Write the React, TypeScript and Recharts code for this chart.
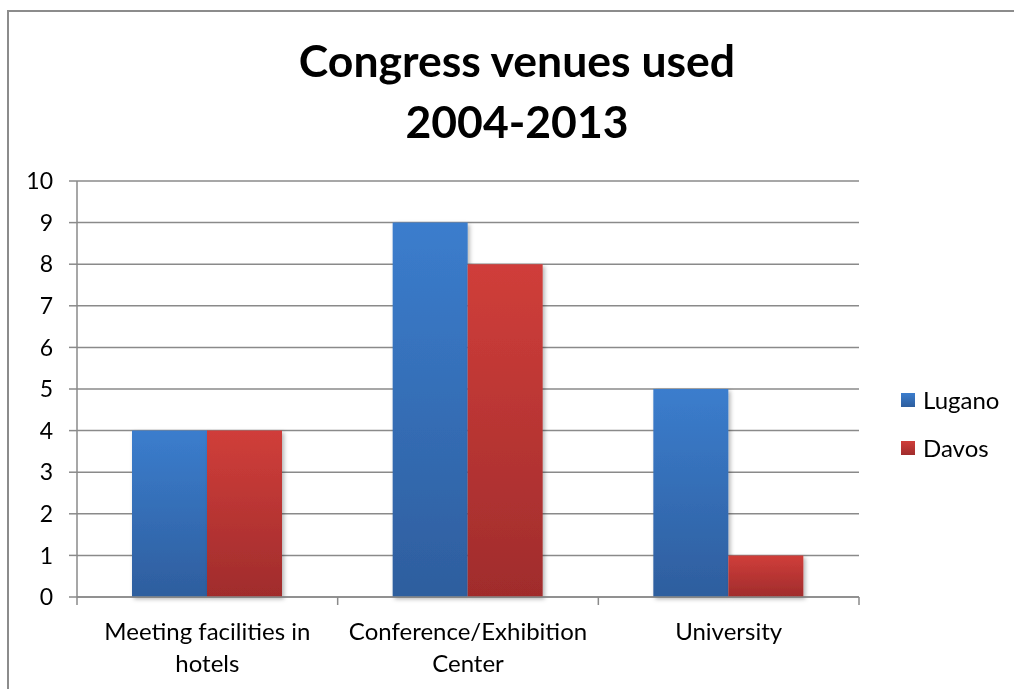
import React from "react";
import { BarChart, Bar, XAxis, YAxis, CartesianGrid } from "recharts";

const categories = ["Meeting facilities in hotels", "Conference/Exhibition Center", "University"];
const luganoValues = [4, 9, 5];
const davosValues = [4, 8, 1];
const yTicks = [0, 1, 2, 3, 4, 5, 6, 7, 8, 9, 10];
const seriesNames = ["Lugano", "Davos"];
const titleLines = ["Congress venues used", "2004-2013"];

const data = categories.map((c, i) => ({ name: c, Lugano: luganoValues[i], Davos: davosValues[i] }));

const W = 1014;
const H = 689;
const X_AXIS_H = 30;
const M = { top: 181, right: 155, bottom: 92 - X_AXIS_H, left: 0 };
const Y_AXIS_W = 77;
const FONT = "Lato, 'Open Sans', sans-serif";
const GRID = "#8a8a8a";
const COLS = [
  ["#3b7dcd", "#2e5e9e"],
  ["#d03e3a", "#a02c2c"],
];

function wrap(text: string, maxChars: number): string[] {
  const words = text.split(" ");
  const lines: string[] = [];
  let cur = "";
  for (const w of words) {
    const t = cur ? cur + " " + w : w;
    if (t.length > maxChars && cur) {
      lines.push(cur);
      cur = w;
    } else cur = t;
  }
  if (cur) lines.push(cur);
  return lines;
}

const plotW = W - M.left - M.right - Y_AXIS_W;
const half = plotW / categories.length / 2;

function XTick(props: any) {
  const { x, y, payload, index } = props;
  const lines = wrap(String(payload.value), 21);
  return (
    <g>
      <line x1={x - half} x2={x - half} y1={y} y2={y + 8} stroke={GRID} strokeWidth={1.5} />
      {index === categories.length - 1 && (
        <line x1={x + half} x2={x + half} y1={y} y2={y + 8} stroke={GRID} strokeWidth={1.5} />
      )}
      <text x={x} y={y} textAnchor="middle" fontFamily={FONT} fontSize={24} fill="#000">
        {lines.map((l, i) => (
          <tspan key={i} x={x} y={y + 43 + i * 32}>
            {l}
          </tspan>
        ))}
      </text>
    </g>
  );
}

function LegendBox() {
  return (
    <div
      style={{
        position: "absolute",
        left: 901,
        top: 385,
        fontFamily: FONT,
        fontSize: 24,
        color: "#000",
        lineHeight: "29px",
      }}
    >
      {seriesNames.map((n, i) => (
        <div key={n} style={{ display: "flex", alignItems: "center", height: 29, marginBottom: i === 0 ? 19 : 0 }}>
          <span
            style={{
              display: "inline-block",
              width: 14,
              height: 14,
              marginRight: 8,
              background: `linear-gradient(${COLS[i][0]}, ${COLS[i][1]})`,
            }}
          />
          <span>{n}</span>
        </div>
      ))}
    </div>
  );
}

export default function App() {
  return (
    <>
      <div
        style={{
          position: "fixed",
          left: 7,
          top: 10,
          width: 1020,
          height: 700,
          borderTop: "2px solid #8c8c8c",
          borderLeft: "2px solid #8c8c8c",
          boxSizing: "border-box",
        }}
      />
      <div style={{ position: "fixed", left: 0, top: 0, width: W, height: H }}>
        <BarChart width={W} height={H} data={data} margin={M} barGap={0} barSize={75}>
          <defs>
            <linearGradient id="gBlue" x1="0" y1="0" x2="0" y2="1">
              <stop offset="0%" stopColor={COLS[0][0]} />
              <stop offset="100%" stopColor={COLS[0][1]} />
            </linearGradient>
            <linearGradient id="gRed" x1="0" y1="0" x2="0" y2="1">
              <stop offset="0%" stopColor={COLS[1][0]} />
              <stop offset="100%" stopColor={COLS[1][1]} />
            </linearGradient>
            <filter id="shadow" x="-10%" y="-10%" width="130%" height="130%">
              <feDropShadow dx="2" dy="2" stdDeviation="2" floodColor="#000" floodOpacity="0.3" />
            </filter>
          </defs>
          <text x={517} y={77} textAnchor="middle" fontFamily={FONT} fontWeight={700} fontSize={44.5} fill="#000">
            <tspan x={517} y={77}>{titleLines[0]}</tspan>
            <tspan x={517} y={138}>{titleLines[1]}</tspan>
          </text>
          <CartesianGrid vertical={false} stroke={GRID} strokeWidth={1.5} />
          <XAxis
            dataKey="name"
            height={X_AXIS_H}
            axisLine={{ stroke: GRID, strokeWidth: 1.5 }}
            tickLine={false}
            tickSize={0}
            tickMargin={0}
            tick={<XTick />}
            interval={0}
          />
          <YAxis
            width={Y_AXIS_W}
            domain={[0, 10]}
            ticks={yTicks}
            interval={0}
            axisLine={{ stroke: GRID, strokeWidth: 1.5 }}
            tickLine={{ stroke: GRID, strokeWidth: 1.5 }}
            tickSize={8}
            tickMargin={16}
            tick={{ fill: "#000", fontSize: 23, fontFamily: FONT }}
          />
          <Bar dataKey="Lugano" fill="url(#gBlue)" filter="url(#shadow)" isAnimationActive={false} />
          <Bar dataKey="Davos" fill="url(#gRed)" filter="url(#shadow)" isAnimationActive={false} />
        </BarChart>
        <LegendBox />
      </div>
    </>
  );
}
